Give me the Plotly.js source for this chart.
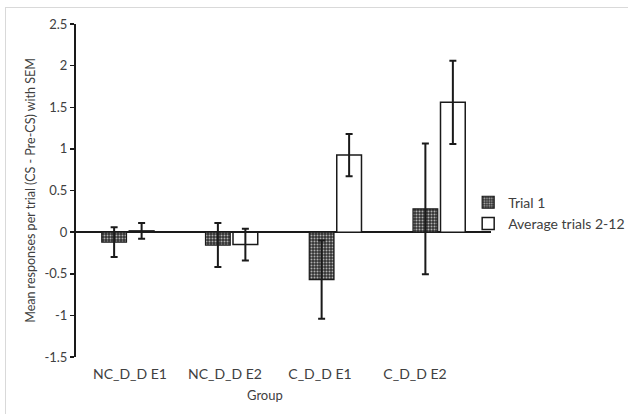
<!DOCTYPE html>
<html>
<head>
<meta charset="utf-8">
<script src="https://cdn.plot.ly/plotly-3.0.1.min.js"></script>
<style>
body{margin:0;padding:0;background:#fff;}
#wrap{position:relative;width:628px;height:414px;}
#chart{width:628px;height:414px;}
#frame{position:absolute;left:5px;top:7px;width:640px;height:420px;border-top:1px solid #d9d9d9;border-left:1px solid #d9d9d9;pointer-events:none;}
</style>
</head>
<body>
<div id="wrap"><div id="chart"></div><div id="frame"></div></div>
<script>
var groups = ["NC_D_D E1", "NC_D_D E2", "C_D_D E1", "C_D_D E2"];
var trial1 = [-0.12, -0.155, -0.57, 0.28];
var trial1Sem = [0.18, 0.265, 0.47, 0.785];
var avgTrials = [0.015, -0.15, 0.925, 1.56];
var avgTrialsSem = [0.095, 0.19, 0.255, 0.5];
var seriesNames = ["Trial 1", "Average trials 2-12"];
var yTicks = [-1.5, -1, -0.5, 0, 0.5, 1, 1.5, 2, 2.5];
var yTickText = ["-1.5", "-1", "-0.5", "0", "0.5", "1", "1.5", "2", "2.5"];
var xTitle = "Group";
var yTitle = "Mean responses per trial (CS - Pre-CS) with SEM";

var font = "Lato, 'Open Sans', sans-serif";
var txt = "#404040";

// label axis: Excel-style category labels sit slightly left of the bar groups
var labelIdx = groups.map(function (g, i) { return i; });

var data = [
  {
    type: "bar", name: seriesNames[0], x: groups, y: trial1,
    marker: {color: "#3a3a3a", line: {color: "#1a1a1a", width: 1.2},
      pattern: {shape: ".", bgcolor: "#333333", fgcolor: "#b0b0b0", size: 3, solidity: 0.35, fillmode: "replace"}},
    error_y: {type: "data", array: trial1Sem, visible: true, color: "#1a1a1a", thickness: 2, width: 3.5}
  },
  {
    type: "bar", name: seriesNames[1], x: groups, y: avgTrials,
    marker: {color: "#ffffff", line: {color: "#1a1a1a", width: 1.5}},
    error_y: {type: "data", array: avgTrialsSem, visible: true, color: "#1a1a1a", thickness: 2, width: 3.5}
  },
  {
    type: "scatter", mode: "markers", xaxis: "x2", yaxis: "y", x: labelIdx, y: labelIdx.map(function () { return 0; }),
    marker: {opacity: 0, size: 1}, showlegend: false, hoverinfo: "skip"
  }
];

var layout = {
  width: 628, height: 414,
  margin: {l: 76, r: 137, t: 24, b: 57, autoexpand: false},
  paper_bgcolor: "#ffffff", plot_bgcolor: "#ffffff",
  font: {family: font, size: 13, color: txt},
  barmode: "group", bargap: 0.47, bargroupgap: 0.1,
  showlegend: true,
  legend: {x: 0.945, y: 0.432, xanchor: "left", yanchor: "middle", bgcolor: "rgba(0,0,0,0)",
    font: {family: font, size: 14, color: txt}, itemwidth: 30, tracegroupgap: 0},
  xaxis: {
    type: "category", showline: false, showgrid: false, zeroline: false, ticks: "",
    showticklabels: false, automargin: false
  },
  xaxis2: {
    overlaying: "x", anchor: "y", side: "bottom", range: [-0.568, 3.8], automargin: false,
    tickvals: labelIdx, ticktext: groups, showline: false, showgrid: false, zeroline: false, ticks: "",
    ticklabelstandoff: 7,
    tickfont: {family: font, size: 14, color: txt}
  },
  yaxis: {
    range: [-1.5, 2.5], tickvals: yTicks, ticktext: yTickText, automargin: false,
    showline: true, linecolor: "#1a1a1a", linewidth: 2,
    ticks: "outside", ticklen: 4, tickwidth: 1.5, tickcolor: "#1a1a1a",
    showgrid: false, zeroline: true, zerolinecolor: "#1a1a1a", zerolinewidth: 2.5,
    tickfont: {family: font, size: 13, color: txt},
    title: {text: yTitle, font: {family: font, size: 12.5, color: txt}, standoff: 6}
  },
  annotations: [
    {text: xTitle, xref: "paper", yref: "paper", x: 0.455, y: -0.114, xanchor: "center", yanchor: "middle",
      showarrow: false, font: {family: font, size: 13, color: txt}}
  ]
};

Plotly.newPlot("chart", data, layout, {displayModeBar: false, staticPlot: true});
</script>
</body>
</html>
